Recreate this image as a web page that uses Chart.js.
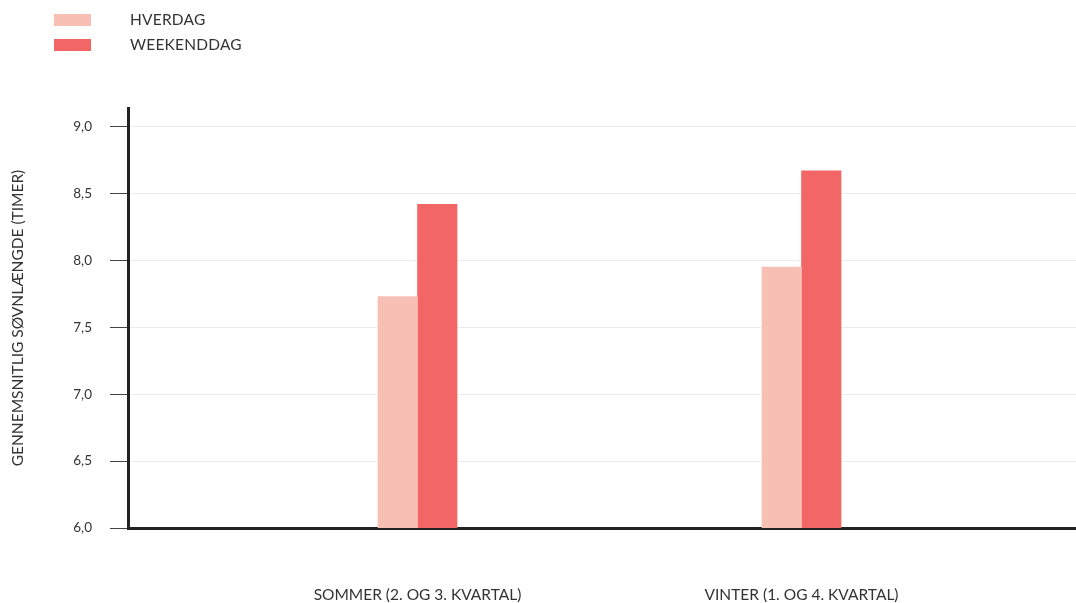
<!DOCTYPE html>
<html>
<head>
<meta charset="utf-8">
<script src="https://cdn.jsdelivr.net/npm/chart.js@4/dist/chart.umd.min.js"></script>
<style>
  html, body { margin: 0; padding: 0; background: #fff; }
  #wrap { position: relative; width: 1076px; height: 603px; }
  #legend { position: absolute; left: 54px; top: 8px; font-family: Lato, "Open Sans", sans-serif; font-size: 15.5px; color: #333; letter-spacing: 0.2px; }
  .item { position: relative; height: 25px; }
  .box { position: absolute; left: 0; top: 6px; width: 37px; height: 12px; }
  .lbl { position: absolute; left: 76px; top: 2px; line-height: 18px; white-space: nowrap; }
</style>
</head>
<body>
<div id="wrap">
  <canvas id="c" width="1076" height="603"></canvas>
  <div id="legend"></div>
</div>
<script>
// Sleep duration by season, weekday vs. weekend
const categories = ['SOMMER (2. OG 3. KVARTAL)', 'VINTER (1. OG 4. KVARTAL)'];
const seriesNames = ['HVERDAG', 'WEEKENDDAG'];
const hverdag = [7.73, 7.95];
const weekenddag = [8.42, 8.67];
const yTicks = [6.0, 6.5, 7.0, 7.5, 8.0, 8.5, 9.0];
const colors = ['#f8c0b5', '#f26666'];

const FONT = 'Lato, "Open Sans", sans-serif';

// HTML legend
const legendEl = document.getElementById('legend');
seriesNames.forEach((name, i) => {
  const item = document.createElement('div');
  item.className = 'item';
  const box = document.createElement('div');
  box.className = 'box';
  box.style.background = colors[i];
  const lbl = document.createElement('div');
  lbl.className = 'lbl';
  lbl.textContent = name;
  item.appendChild(box);
  item.appendChild(lbl);
  legendEl.appendChild(item);
});

const toPoints = arr => arr.map((v, i) => ({ x: i + 1, y: v }));

new Chart(document.getElementById('c'), {
  type: 'bar',
  data: {
    datasets: [
      { label: seriesNames[0], data: toPoints(hverdag), backgroundColor: colors[0], barThickness: 39.5 },
      { label: seriesNames[1], data: toPoints(weekenddag), backgroundColor: colors[1], barThickness: 39.5 }
    ]
  },
  options: {
    responsive: false,
    animation: false,
    layout: { padding: { top: 108, left: 0, right: 0, bottom: 0 } },
    plugins: { legend: { display: false }, tooltip: { enabled: false } },
    scales: {
      x: {
        type: 'linear',
        offset: false,
        min: 0.2461,
        max: 2.7148,
        grid: { display: false, drawTicks: false },
        border: { display: true, color: '#222', width: 3 },
        afterBuildTicks: s => { s.ticks = categories.map((_, i) => ({ value: i + 1 })); },
        afterFit: s => { s.height = 75; },
        ticks: {
          padding: 58,
          maxRotation: 0,
          autoSkip: false,
          color: '#333',
          font: { family: FONT, size: 15.5 },
          callback: (v, i) => categories[i]
        }
      },
      y: {
        min: 6,
        max: 9.14,
        afterBuildTicks: s => { s.ticks = yTicks.map(v => ({ value: v })); },
        afterFit: s => { s.width = 128; },
        grid: { color: '#ececec', lineWidth: 1, tickLength: 18, tickColor: '#444' },
        border: { display: true, color: '#222', width: 3 },
        ticks: {
          padding: 18,
          color: '#333',
          font: { family: FONT, size: 13.5 },
          callback: v => v.toFixed(1).replace('.', ',')
        },
        title: {
          display: true,
          text: 'GENNEMSNITLIG SØVNLÆNGDE (TIMER)',
          color: '#333',
          font: { family: FONT, size: 15.5 },
          padding: { top: 9, bottom: 0 }
        }
      }
    }
  }
});
</script>
</body>
</html>
